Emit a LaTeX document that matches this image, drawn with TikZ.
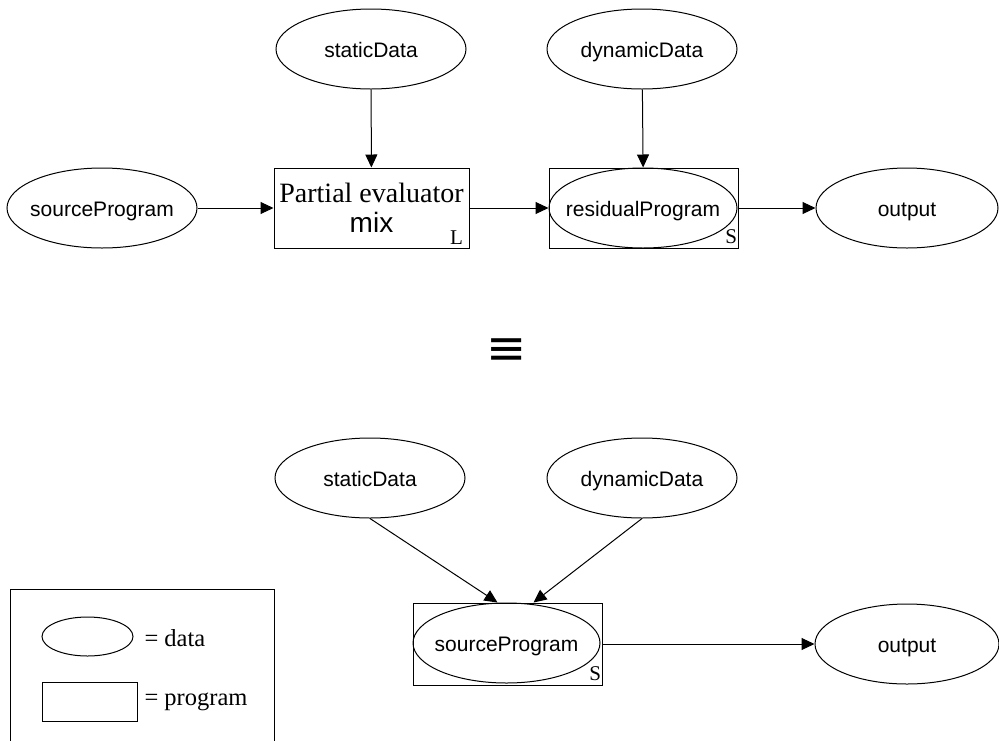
\documentclass[tikz,border=0pt]{standalone}
\usepackage{fontspec}
\setmainfont{Liberation Serif}
\setsansfont{Liberation Sans}
\newfontfamily\dejavu{DejaVu Sans}
\usetikzlibrary{shapes.geometric,arrows.meta}
\tikzset{
  data/.style={ellipse, draw, minimum width=190pt, minimum height=80pt,
               inner xsep=-40pt, inner ysep=-12pt, text height=18pt, text depth=2pt,
               font=\sffamily\fontsize{21}{25}\selectfont},
  progbox/.style={draw, rectangle, inner sep=0pt},
  arr/.style={-{Triangle[length=13pt,width=12pt]}},
  tag/.style={font=\fontsize{21}{21}\selectfont, inner sep=0pt, anchor=south east},
  legtext/.style={font=\fontsize{24.5}{26}\selectfont, inner sep=0pt, anchor=west}
}
\begin{document}
\begin{tikzpicture}[x=1pt,y=-1pt,line width=1pt]
\useasboundingbox (0,0) rectangle (999,740);

% ---------- top row ----------
\node[data] (sd1) at (371,49) {staticData};
\node[data] (dd1) at (642,49) {dynamicData};
\node[data] (sp1) at (102,208) {sourceProgram};
\node[progbox, minimum width=195pt, minimum height=80pt, align=center,
      font=\fontsize{28}{30}\selectfont] (mix) at (371.5,208)
  {Partial evaluator\\{\sffamily mix}};
\node[tag] (L) at ([xshift=-6pt,yshift=4pt]mix.south east) {L};
\node[progbox, minimum width=189pt, minimum height=80pt] (rbox) at (643.5,208) {};
\node[data, minimum width=188pt] (rp) at (643,208) {residualProgram};
\node[tag] (S1) at ([xshift=-1pt,yshift=4pt]rbox.south east) {S};
\node[data, minimum width=182pt] (out1) at (907,208) {output};

\draw[arr] (sd1) -- (mix);
\draw[arr] (dd1) -- (rbox);
\draw[arr] (sp1) -- (mix);
\draw[arr] (mix) -- (rbox);
\draw[arr] (rbox.east) -- (out1.west);

% ---------- equivalence ----------
\node (eq) at (507,352) {\dejavu\fontsize{48}{48}\selectfont ≡};

% ---------- bottom row ----------
\node[data] (sd2) at (370,478) {staticData};
\node[data] (dd2) at (642,478) {dynamicData};
\node[progbox, minimum width=189pt, minimum height=82pt] (pbox) at (507.5,644) {};
\node[data, minimum width=187pt] (sp2) at (506.5,643) {sourceProgram};
\node[tag] (S2) at ([xshift=-1pt,yshift=4pt]pbox.south east) {S};
\node[data, minimum width=184pt] (out2) at (907,644) {output};

\draw[arr] (sd2.south) -- ([xshift=-10pt]pbox.north);
\draw[arr] (dd2.south) -- ([xshift=26pt]pbox.north);
\draw[arr] (pbox.east) -- (out2.west);

% ---------- legend ----------
\draw (10,742) -- (10,589) -- (274,589) -- (274,742);
\node[ellipse, draw, minimum width=91pt, minimum height=39pt, inner sep=0pt] (leg1) at (87.5,636.5) {};
\node[legtext] (legt1) at (144,638) {= data};
\node[progbox, minimum width=95pt, minimum height=39pt] (leg2) at (89.5,701.5) {};
\node[legtext] (legt2) at (144,702) {= program};
\end{tikzpicture}
\end{document}
